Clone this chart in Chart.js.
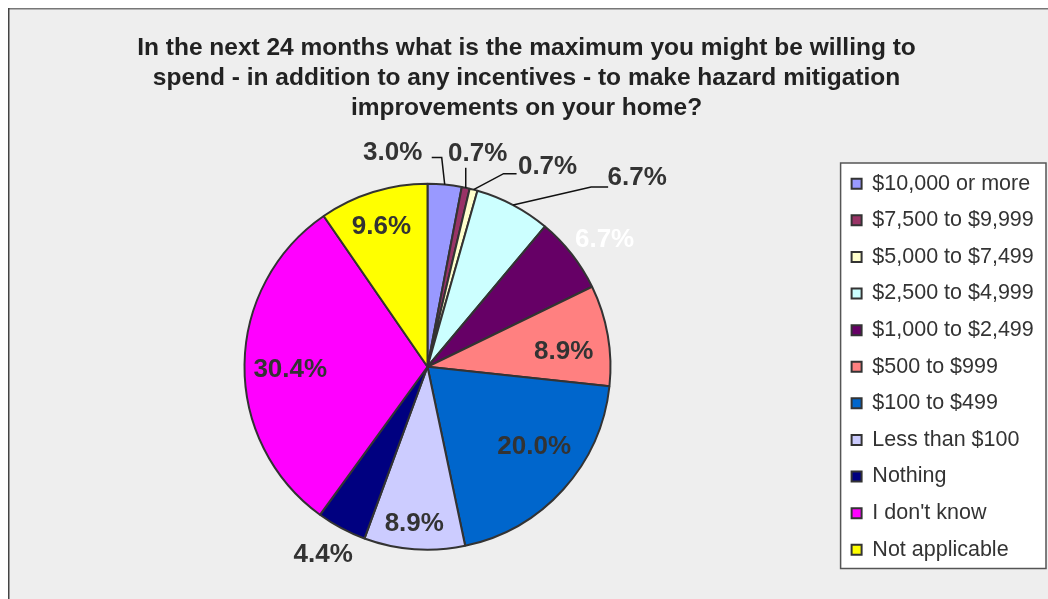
<!DOCTYPE html>
<html lang="en">
<head>
    <meta charset="UTF-8">
    <title>Hazard mitigation spending</title>
    <script src="https://cdn.jsdelivr.net/npm/chart.js"></script>
    <style>
        html, body { margin: 0; padding: 0; background: #fff; }
        #wrap { width: 1048px; height: 599px; }
    </style>
</head>
<body>
    <div id="wrap"><canvas id="pieChart" width="1048" height="599"></canvas></div>

    <script>
        const categories = ['$10,000 or more', '$7,500 to $9,999', '$5,000 to $7,499', '$2,500 to $4,999',
            '$1,000 to $2,499', '$500 to $999', '$100 to $499', 'Less than $100', 'Nothing',
            "I don't know", 'Not applicable'];
        const percents = [3.0, 0.7, 0.7, 6.7, 6.7, 8.9, 20.0, 8.9, 4.4, 30.4, 9.6];
        const sliceColors = ['#9999FF', '#993366', '#FFFFCC', '#CCFFFF', '#660066', '#FF8080',
            '#0066CC', '#CCCCFF', '#000080', '#FF00FF', '#FFFF00'];
        const titleLines = ['In the next 24 months what is the maximum you might be willing to',
            'spend - in addition to any incentives - to make hazard mitigation',
            'improvements on your home?'];

        const FONT = '"Liberation Sans", Arial, sans-serif';

        // how each percentage label is placed: inside at a fraction of the radius (plus a small nudge),
        // or outside, offset from the slice edge, with a leader line (points relative to the text)
        const labelPlacement = [
            { out: true, dx: -52, dy: -32, leader: [[49, 5], [39, 5]] },
            { out: true, dx: 12, dy: -34, leader: [[-12, 14]] },
            { out: true, dx: 74, dy: -23, leader: [[-44, 7], [-31, 7]] },
            { out: true, dx: 124, dy: -27, leader: [[-46, 9], [-29, 9]] },
            { r: 1.2, nx: 4, ny: 8, color: '#ffffff' },
            { r: 0.75, nx: 1, ny: 9 },
            { r: 0.72, nx: 9, ny: -8 },
            { r: 0.85, nx: -2, ny: 2 },
            { r: 1.165, nx: -4, ny: 0 },
            { r: 0.75, nx: 0, ny: 5 },
            { r: 0.81, nx: -2, ny: 2 }
        ];

        const frame = {
            id: 'frame',
            beforeDraw(chart) {
                const ctx = chart.ctx;
                ctx.save();
                ctx.fillStyle = '#ffffff';
                ctx.fillRect(0, 0, chart.width, chart.height);
                ctx.fillStyle = '#eeeeee';
                ctx.fillRect(9, 9, chart.width - 9, chart.height - 9);
                ctx.fillStyle = '#777777';
                ctx.fillRect(8, 8, chart.width - 8, 1.5);
                ctx.fillStyle = '#444444';
                ctx.fillRect(8, 8, 1.5, chart.height - 8);

                // white legend panel
                const boxes = chart.legend.legendHitBoxes;
                if (boxes && boxes.length) {
                    const first = boxes[0], last = boxes[boxes.length - 1];
                    const x0 = first.left - 11, y0 = first.top - 10;
                    const x1 = chart.width - 2, y1 = last.top + last.height + 8;
                    ctx.fillStyle = '#ffffff';
                    ctx.fillRect(x0, y0, x1 - x0, y1 - y0);
                    ctx.strokeStyle = '#555555';
                    ctx.lineWidth = 1.5;
                    ctx.strokeRect(x0, y0, x1 - x0, y1 - y0);
                }
                ctx.restore();
            }
        };

        const pctLabels = {
            id: 'pctLabels',
            afterDatasetsDraw(chart) {
                const ctx = chart.ctx;
                const arcs = chart.getDatasetMeta(0).data;
                ctx.save();
                ctx.font = 'bold 26px ' + FONT;
                ctx.textAlign = 'center';
                ctx.textBaseline = 'middle';
                arcs.forEach((arc, i) => {
                    const p = labelPlacement[i];
                    const mid = (arc.startAngle + arc.endAngle) / 2;
                    const R = arc.outerRadius;
                    let tx, ty;
                    if (p.out) {
                        const ex = arc.x + Math.cos(mid) * R;
                        const ey = arc.y + Math.sin(mid) * R;
                        tx = ex + p.dx;
                        ty = ey + p.dy;
                        ctx.strokeStyle = '#111111';
                        ctx.lineWidth = 1.5;
                        ctx.beginPath();
                        ctx.moveTo(ex, ey);
                        p.leader.forEach(pt => ctx.lineTo(tx + pt[0], ty + pt[1]));
                        ctx.stroke();
                    } else {
                        tx = arc.x + Math.cos(mid) * R * p.r + p.nx;
                        ty = arc.y + Math.sin(mid) * R * p.r + p.ny;
                    }
                    ctx.fillStyle = p.color || '#333333';
                    ctx.fillText(percents[i].toFixed(1) + '%', tx, ty);
                });
                ctx.restore();
            }
        };

        new Chart(document.getElementById('pieChart'), {
            type: 'pie',
            data: {
                labels: categories,
                datasets: [{
                    data: percents,
                    backgroundColor: sliceColors,
                    borderColor: '#333333',
                    borderWidth: 2,
                    hoverOffset: 0
                }]
            },
            options: {
                responsive: false,
                animation: false,
                radius: 183,
                layout: { padding: { left: 18.5, right: 13.5, top: 0, bottom: 21.5 } },
                plugins: {
                    title: {
                        display: true,
                        text: titleLines,
                        color: '#222222',
                        font: { family: FONT, size: 24.5, weight: 'bold', lineHeight: 30 / 24.5 },
                        padding: { top: 33, bottom: 33 }
                    },
                    legend: {
                        position: 'right',
                        fullSize: false,
                        maxWidth: 198,
                        labels: {
                            color: '#333333',
                            font: { family: FONT, size: 21.5 },
                            boxWidth: 10,
                            boxHeight: 10,
                            padding: 15.1
                        }
                    },
                    tooltip: { enabled: false }
                }
            },
            plugins: [frame, pctLabels]
        });
    </script>
</body>
</html>
